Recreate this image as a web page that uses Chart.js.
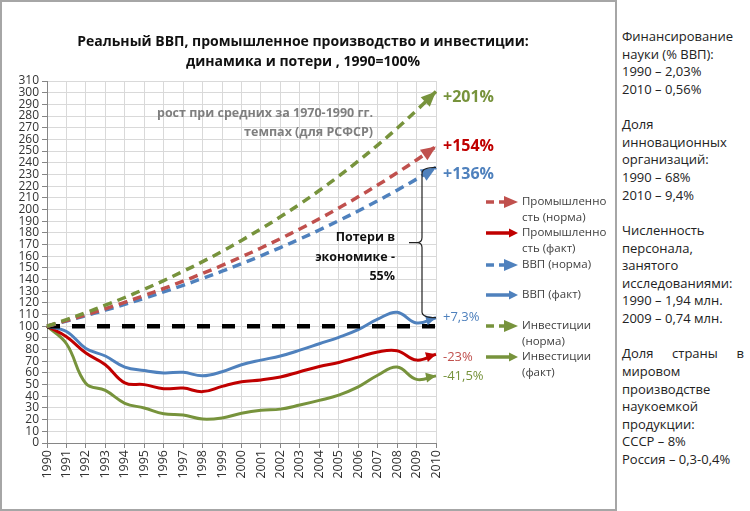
<!DOCTYPE html>
<html>
<head>
<meta charset="utf-8">
<script src="https://cdn.jsdelivr.net/npm/chart.js@4/dist/chart.umd.min.js"></script>
<style>
  body { margin: 0; background: #fff; font-family: 'Open Sans', sans-serif; }
  #box { position: absolute; left: 0; top: 0; width: 613px; height: 507px; border: 2px solid #a6a6a6; background: #fff; }
  #c { position: absolute; left: 0; top: 0; }
  .txt { position: absolute; white-space: nowrap; }
  #title { left: 0; top: 29px; width: 602px; text-align: center; font-weight: bold; font-size: 14px; line-height: 20px; color: #111; }
  #note { left: 60px; top: 101px; width: 311px; text-align: right; font-weight: bold; font-size: 12.5px; line-height: 19px; color: #7f7f7f; }
  #loss { left: 250px; top: 225px; width: 143px; text-align: right; font-weight: bold; font-size: 12.5px; line-height: 19.5px; color: #111; }
  #side { position: absolute; left: 622px; top: 28px; width: 122px; font-size: 13px; line-height: 17.63px; color: #222; }
  #side .just { text-align: justify; text-align-last: justify; }
</style>
</head>
<body>
<div id="box">
  <canvas id="c" width="613" height="507"></canvas>
  <div id="title" class="txt">Реальный ВВП, промышленное производство и инвестиции:<br>динамика и потери , 1990=100%</div>
  <div id="note" class="txt">рост при средних за 1970-1990 гг.<br>темпах (для РСФСР)</div>
  <div id="loss" class="txt">Потери в<br>экономике -<br>55%</div>
</div>
<div id="side">
  Финансирование<br>науки (% ВВП):<br>1990 – 2,03%<br>2010 – 0,56%<br><br>
  Доля<br>инновационных<br>организаций:<br>1990 – 68%<br>2010 – 9,4%<br><br>
  Численность<br>персонала,<br>занятого<br>исследованиями:<br>1990 – 1,94 млн.<br>2009 – 0,74 млн.<br><br>
  <div class="just">Доля страны в</div>мировом<br>производстве<br>наукоемкой<br>продукции:<br>СССР – 8%<br>Россия – 0,3-0,4%
</div>

<script>
// data
const years = ['1990','1991','1992','1993','1994','1995','1996','1997','1998','1999','2000',
               '2001','2002','2003','2004','2005','2006','2007','2008','2009','2010'];

const invNorm = [100,105.7,111.6,118,124.6,131.7,139.1,147,155.3,164.1,173.5,183.3,193.7,204.6,216.2,228.5,241.4,255.1,269.5,284.8,301];
const indNorm = [100,104.8,109.8,115,120.5,126.3,132.3,138.6,145.2,152.1,159.4,167,175,183.3,192,201.2,210.8,220.9,231.4,242.4,254];
const gdpNorm = [100,104.4,109,113.8,118.7,123.9,129.4,135,141,147.1,153.6,160.3,167.4,174.7,182.4,190.4,198.7,207.4,216.5,226,236];

const gdpFact = [100,95.5,81,74.5,65,62,60,60.5,57.5,61,67,71,74.5,79.5,85,90.5,97,106,112,102.8,107.3];
const indFact = [100,91,77,67,51.5,50,46.5,47,44,48.5,52.5,54,56.5,61,65.5,69,73.5,78,79,71,76];
const invFact = [100,85,51,45,34,30,25,24,20.5,21.5,25.5,28,29,32.5,36.5,41,48,58,65,54.5,57.5];

const baseline = [100,100,100,100,100,100,100,100,100,100,100,100,100,100,100,100,100,100,100,100,100];

const yMin = 0, yMax = 310, yStep = 10;

const GREEN = '#77933C', RED = '#C00000', RED2 = '#C0504D', BLUE = '#4F81BD';

const legendItems = [
  { lines: ['Промышленно', 'сть (норма)'], color: RED2, dash: true, y: 200 },
  { lines: ['Промышленно', 'сть (факт)'], color: RED, dash: false, y: 231 },
  { lines: ['ВВП (норма)'], color: BLUE, dash: true, y: 263 },
  { lines: ['ВВП (факт)'], color: BLUE, dash: false, y: 293 },
  { lines: ['Инвестиции', '(норма)'], color: GREEN, dash: true, y: 324 },
  { lines: ['Инвестиции', '(факт)'], color: GREEN, dash: false, y: 355 }
];

function drawHead(ctx, x, y, ang, len, w, color) {
  ctx.save();
  ctx.translate(x, y);
  ctx.rotate(ang);
  ctx.beginPath();
  ctx.moveTo(0, 0);
  ctx.lineTo(-len, -w / 2);
  ctx.lineTo(-len, w / 2);
  ctx.closePath();
  ctx.fillStyle = color;
  ctx.fill();
  ctx.restore();
}

const arrows = {
  id: 'arrows',
  afterDatasetsDraw(chart) {
    const ctx = chart.ctx;
    chart.data.datasets.forEach((ds, i) => {
      if (!ds.head) return;
      const pts = chart.getDatasetMeta(i).data;
      const p = pts[pts.length - 1];
      let dx = p.x - p.cp1x, dy = p.y - p.cp1y;
      if (!isFinite(dx) || Math.hypot(dx, dy) < 0.5) {
        const q = pts[pts.length - 2];
        dx = p.x - q.x; dy = p.y - q.y;
      }
      drawHead(ctx, p.x, p.y, Math.atan2(dy, dx), ds.head[0], ds.head[1], ds.borderColor);
      if (ds.endLabel) {
        const l = ds.endLabel;
        ctx.save();
        ctx.font = l.font;
        ctx.fillStyle = l.color;
        ctx.textBaseline = 'middle';
        ctx.fillText(l.text, p.x + 7, p.y + l.dy);
        ctx.restore();
      }
    });

    // brace between GDP norm and GDP fact at 2010
    const xs = chart.scales.x, ys = chart.scales.y;
    const last = years.length - 1;
    const x0 = xs.getPixelForValue(last) - 14;
    const top = ys.getPixelForValue(gdpNorm[last]);
    const bot = ys.getPixelForValue(gdpFact[last]);
    const mid = (top + bot) / 2;
    ctx.save();
    ctx.strokeStyle = '#222';
    ctx.lineWidth = 1.2;
    ctx.beginPath();
    ctx.moveTo(x0 + 14, top);
    ctx.quadraticCurveTo(x0, top, x0, top + 6);
    ctx.lineTo(x0, mid - 5);
    ctx.quadraticCurveTo(x0, mid, x0 - 5, mid);
    ctx.lineTo(x0 - 13, mid);
    ctx.moveTo(x0 - 5, mid);
    ctx.quadraticCurveTo(x0, mid, x0, mid + 5);
    ctx.lineTo(x0, bot - 6);
    ctx.quadraticCurveTo(x0, bot, x0 + 14, bot);
    ctx.stroke();
    ctx.restore();
  },
  afterDraw(chart) {
    const ctx = chart.ctx;
    ctx.save();
    legendItems.forEach(it => {
      ctx.strokeStyle = it.color;
      ctx.lineWidth = 3.5;
      ctx.beginPath();
      if (it.dash) {
        ctx.setLineDash([8, 5]);
        ctx.moveTo(484, it.y);
        ctx.lineTo(502, it.y);
      } else {
        ctx.setLineDash([]);
        ctx.moveTo(484, it.y);
        ctx.lineTo(510, it.y);
      }
      ctx.stroke();
      ctx.setLineDash([]);
      if (it.dash) drawHead(ctx, 516, it.y, 0, 14, 12, it.color);
      else drawHead(ctx, 516, it.y, 0, 9, 9, it.color);
      ctx.fillStyle = '#404040';
      ctx.font = '11.5px "Open Sans"';
      ctx.textBaseline = 'middle';
      it.lines.forEach((t, k) => ctx.fillText(t, 520, it.y + k * 15.5));
    });
    ctx.restore();
  }
};

const normLine = (data, color, label, endLabel) => ({
  data, borderColor: color, borderWidth: 3.5, borderDash: [9, 6], tension: 0.4,
  pointRadius: 0, fill: false, head: [15, 13], endLabel, label
});
const factLine = (data, color, label, endLabel) => ({
  data, borderColor: color, borderWidth: 3, tension: 0.4,
  pointRadius: 0, fill: false, head: [10, 10], endLabel, label
});

new Chart(document.getElementById('c'), {
  type: 'line',
  data: {
    labels: years,
    datasets: [
      normLine(invNorm, GREEN, 'Инвестиции (норма)', { text: '+201%', color: GREEN, font: 'bold 16px "Open Sans"', dy: 6 }),
      normLine(indNorm, RED2, 'Промышленность (норма)', { text: '+154%', color: RED, font: 'bold 16px "Open Sans"', dy: 0 }),
      normLine(gdpNorm, BLUE, 'ВВП (норма)', { text: '+136%', color: BLUE, font: 'bold 16px "Open Sans"', dy: 7 }),
      { data: baseline, borderColor: '#000', borderWidth: 4.5, borderDash: [13, 12], pointRadius: 0, tension: 0, label: '100' },
      factLine(gdpFact, BLUE, 'ВВП (факт)', { text: '+7,3%', color: BLUE, font: '13px "Open Sans"', dy: 0 }),
      factLine(indFact, RED, 'Промышленность (факт)', { text: '-23%', color: RED2, font: '13px "Open Sans"', dy: 3 }),
      factLine(invFact, GREEN, 'Инвестиции (факт)', { text: '-41,5%', color: GREEN, font: '13px "Open Sans"', dy: 0 })
    ]
  },
  options: {
    responsive: false,
    animation: false,
    layout: { padding: { top: 79, right: 179, bottom: 20, left: 0 } },
    plugins: { legend: { display: false }, title: { display: false }, tooltip: { enabled: false } },
    scales: {
      x: {
        offset: false,
        grid: { color: '#d9d9d9', tickColor: '#868686', tickLength: 5 },
        border: { color: '#868686' },
        ticks: { autoSkip: false, minRotation: 90, maxRotation: 90, padding: 2, color: '#333',
                 font: { family: 'Open Sans', size: 12.5 } },
        afterFit: s => { s.height = 46; }
      },
      y: {
        min: yMin, max: yMax,
        grid: { color: '#d9d9d9', tickColor: '#868686', tickLength: 5 },
        border: { color: '#868686' },
        ticks: { stepSize: yStep, autoSkip: false, padding: 3, color: '#333',
                 font: { family: 'Open Sans', size: 12 } },
        afterFit: s => { s.width = 45; }
      }
    }
  },
  plugins: [arrows]
});
</script>
</body>
</html>
